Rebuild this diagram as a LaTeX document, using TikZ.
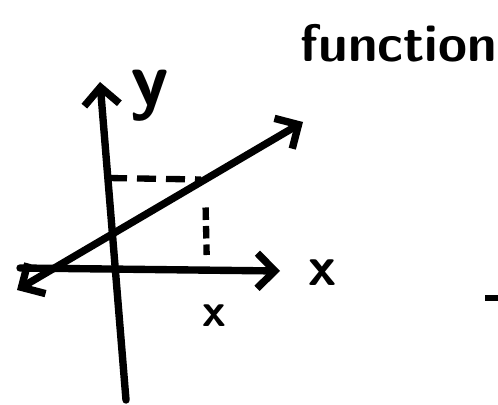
\documentclass[tikz,border=0pt]{standalone}
\usepackage{tikz}
\usetikzlibrary{arrows.meta, positioning}

\begin{document}
\begin{tikzpicture}[
      >={Straight Barb[length=10pt, width=20pt]},
      font=\sffamily,
      axis/.style={line width=4.2pt, line cap=round},
      graphline/.style={line width=4.2pt, line cap=round},
      guide/.style={line width=3.6pt, dash pattern=on 0.38cm off 0.2cm},
      lbl/.style={inner sep=0pt, font=\sffamily\bfseries\fontsize{32}{36}\selectfont},
      title/.style={inner sep=0pt, font=\sffamily\bfseries\fontsize{30}{36}\selectfont},
  ]

  \useasboundingbox (0, 0) rectangle (9.96, 8.08);

  % --- Axes ---
  \coordinate (ytop) at (2.0, 6.44);
  \coordinate (ybot) at (2.52, 0.08);
  \coordinate (xleft) at (0.4, 2.72);
  \coordinate (xright) at (5.6, 2.66);

  \draw[axis, ->] (ybot) -- (ytop);
  \draw[axis, ->] (xleft) -- (xright);

  % --- The line ---
  \coordinate (lstart) at (0.34, 2.28);
  \coordinate (lend) at (6.06, 5.64);
  \draw[graphline, <->] (lstart) -- (lend);

  % --- Point on the line and its projections ---
  \coordinate (pt) at (4.1, 4.49);
  \coordinate (ymark) at (2.16, 4.52);
  \coordinate (xmark) at (4.14, 2.68);

  \draw[guide] (ymark) -- ([xshift=-0.08cm]pt);
  \draw[guide, dash pattern=on 0.25cm off 0.12cm, shorten <=0.56cm, shorten >=0.3cm] (pt) -- (xmark);

  % --- Labels ---
  \node[lbl, font=\sffamily\bfseries\fontsize{44}{48}\selectfont] (ylabel) at (3.0, 6.16) {y};
  \node[lbl] (xlabel) at (6.46, 2.62) {x};
  \node[lbl, font=\sffamily\bfseries\fontsize{27}{30}\selectfont] (xval) at (4.28, 1.76) {x};
  \node[title] (fname) at (7.98, 7.22) {function};

  % --- Cut-off stroke at the right edge ---
  \coordinate (dashl) at (9.7, 2.12);
  \coordinate (dashr) at (9.96, 2.12);
  \draw[line width=3.8pt] (dashl) -- (dashr);

\end{tikzpicture}
\end{document}
